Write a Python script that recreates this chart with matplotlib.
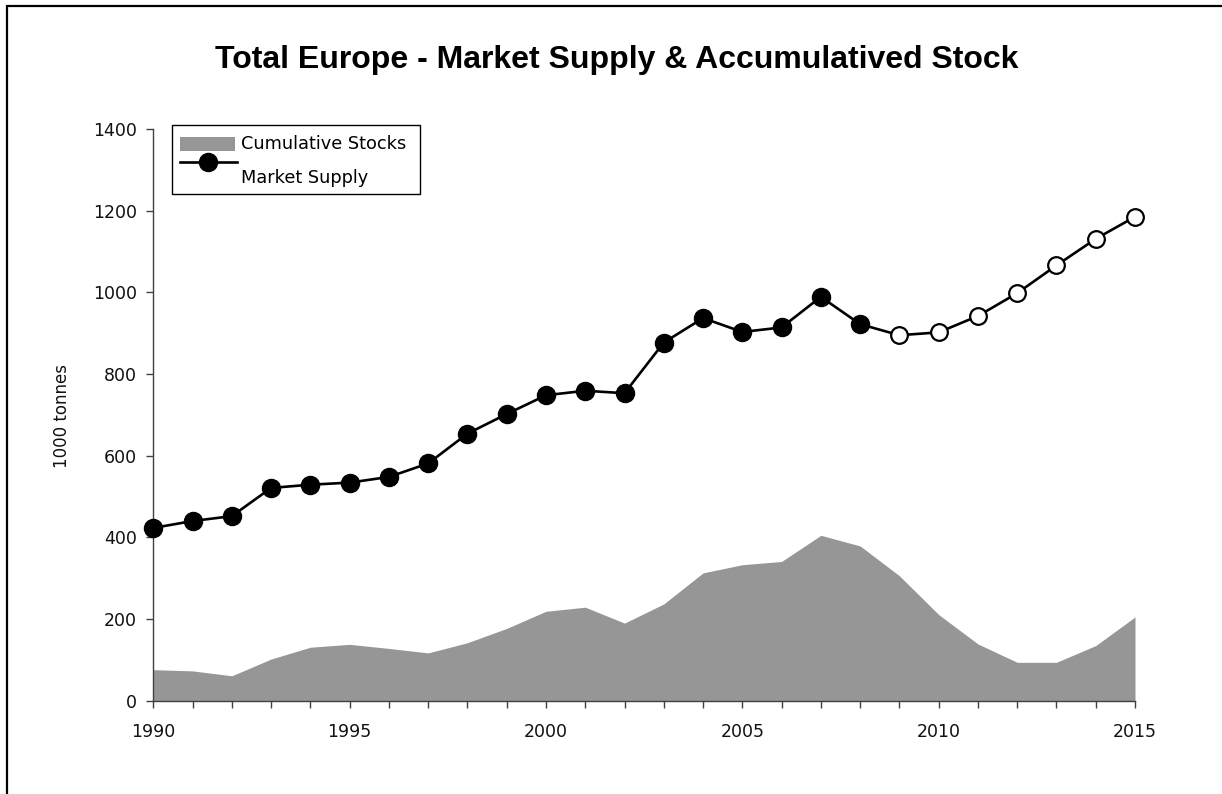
import matplotlib
matplotlib.use("Agg")
from matplotlib import pyplot as plt
from matplotlib.lines import Line2D
from matplotlib.patches import Rectangle
import numpy as np

# data
years = list(range(1990, 2016))
market_supply = [423, 440, 452, 521, 529, 534, 548, 581, 654, 702, 748, 759, 753,
                 877, 937, 903, 914, 989, 922, 895, 902, 942, 998, 1066, 1131, 1185]
cumulative_stocks = [76, 73, 61, 102, 131, 138, 128, 117, 142, 177, 219, 229, 190,
                     237, 313, 333, 341, 405, 379, 306, 211, 139, 94, 94, 135, 205]
last_actual_year = 2008
year_labels = ['1990', '1995', '2000', '2005', '2010', '2015']
y_ticks = [0, 200, 400, 600, 800, 1000, 1200, 1400]

title = 'Total Europe - Market Supply & Accumulatived Stock'
ylabel = '1000 tonnes'
legend_labels = ['Cumulative Stocks', 'Market Supply']

grey = '#969696'
axis_col = '#404040'
tick_font = 'DejaVu Sans'

W, H = 1222, 794
fig = plt.figure(figsize=(W / 100, H / 100), dpi=100)

# outer frame (only top and left edges are visible in the reference)
fig.patches.append(Rectangle((7 / W, -0.2), 1.2, 1.2 - 6 / H, transform=fig.transFigure,
                             fill=False, edgecolor='black', linewidth=1.6))

ax = fig.add_axes([153.3 / W, 1 - 700.7 / H, (1135 - 153.3) / W, (700.7 - 129) / H])

x = np.array(years)
ms = np.array(market_supply)
actual = x <= last_actual_year

ax.fill_between(x, 0, cumulative_stocks, color=grey, linewidth=0)
ax.plot(x, ms, color='black', linewidth=1.9, zorder=3, clip_on=False)
ax.plot(x[actual], ms[actual], linestyle='none', marker='o', markersize=13,
        markerfacecolor='black', markeredgecolor='black', zorder=4, clip_on=False)
ax.plot(x[~actual], ms[~actual], linestyle='none', marker='o', markersize=12,
        markerfacecolor='white', markeredgecolor='black', markeredgewidth=1.6, zorder=4,
        clip_on=False)

ax.set_xlim(1990, 2015)
ax.set_ylim(0, 1400)
ax.set_xticks(years, minor=True)
ax.set_xticks([int(s) for s in year_labels])
ax.set_xticklabels(year_labels)
ax.set_yticks(y_ticks)
ax.set_yticklabels([str(v) for v in y_ticks])

for s in ['top', 'right']:
    ax.spines[s].set_visible(False)
for s in ['left', 'bottom']:
    ax.spines[s].set_color(axis_col)
    ax.spines[s].set_linewidth(1.0)

ax.tick_params(axis='x', which='both', direction='out', length=5, width=1.0,
               color=axis_col, pad=11)
ax.tick_params(axis='y', direction='out', length=5, width=1.0, color=axis_col, pad=7)
for lab in ax.get_xticklabels() + ax.get_yticklabels():
    lab.set_fontfamily(tick_font)
    lab.set_fontsize(12.5)
    lab.set_color('#111111')

fig.text(62 / W, 1 - 416 / H, ylabel, rotation=90, ha='center', va='center',
         fontsize=12, family=tick_font, color='#111111')

fig.text(617 / W, 1 - 60 / H, title, ha='center', va='center', fontsize=23,
         fontweight='bold', family='Liberation Sans')

# legend, laid out like the original spreadsheet legend
fig.patches.append(Rectangle((172 / W, 1 - 194 / H), (420 - 172) / W, (194 - 125) / H,
                             transform=fig.transFigure, fill=True, facecolor='white',
                             edgecolor='black', linewidth=1.0, zorder=5))
fig.patches.append(Rectangle((180 / W, 1 - 151 / H), (235 - 180) / W, 14 / H,
                             transform=fig.transFigure, facecolor=grey, linewidth=0, zorder=6))
fig.lines.append(Line2D([180 / W, 237 / W], [1 - 162 / H, 1 - 162 / H],
                        transform=fig.transFigure, color='black', linewidth=1.9, zorder=6))
fig.lines.append(Line2D([208.5 / W], [1 - 162 / H], transform=fig.transFigure,
                        linestyle='none', marker='o', markersize=13, color='black', zorder=7))
fig.text(241 / W, 1 - 144 / H, legend_labels[0], ha='left', va='center', fontsize=12.8,
         family=tick_font, zorder=7)
fig.text(241 / W, 1 - 178 / H, legend_labels[1], ha='left', va='center', fontsize=12.8,
         family=tick_font, zorder=7)

fig.savefig('out.png', dpi=100)
